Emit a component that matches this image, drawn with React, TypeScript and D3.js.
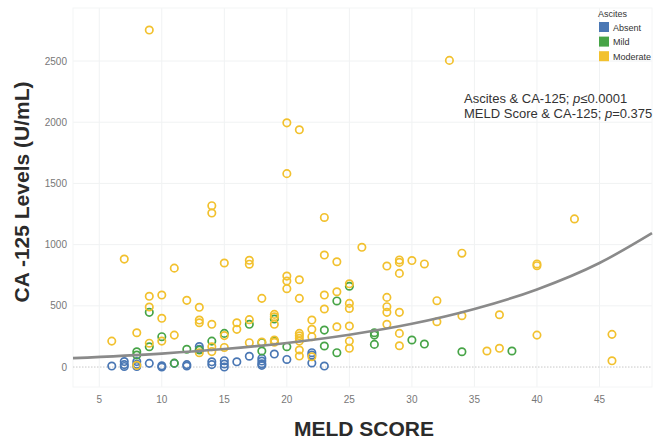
import React, { useEffect, useRef } from 'react';
import * as d3 from 'd3';

// [MELD score, CA-125 (U/mL)] for each ascites group
const absentPoints: [number, number][] = [
  [6, 8], [7, 45], [7, 20], [7, 5], [8, 45], [8, 22], [8, 5], [9, 30],
  [10, 10], [10, 0], [11, 30], [12, 20], [12, 8], [13, 168], [13, 145],
  [14, 43], [14, 20], [15, 52], [15, 25], [15, 0], [16, 43], [17, 88],
  [18, 71], [18, 49], [18, 27], [18, 14], [19, 106], [20, 62],
  [22, 117], [22, 98], [22, 33], [23, 8],
];

const mildPoints: [number, number][] = [
  [8, 125], [8, 98], [9, 447], [9, 166], [10, 248], [11, 32], [12, 145],
  [13, 139], [14, 212], [15, 275], [17, 349], [18, 199], [18, 131],
  [19, 392], [19, 212], [20, 166], [23, 302], [23, 172], [24, 540],
  [24, 117], [25, 660], [27, 280], [27, 261], [27, 185], [30, 221],
  [31, 188], [34, 125], [38, 131],
];

const moderatePoints: [number, number][] = [
  [6, 212], [7, 882], [8, 280], [8, 14], [9, 2753], [9, 578], [9, 490],
  [9, 195], [10, 588], [10, 398], [10, 212], [11, 808], [11, 261],
  [12, 545], [13, 488], [13, 384], [13, 362], [13, 117], [14, 1318],
  [14, 1258], [14, 349], [14, 166], [14, 126], [15, 850], [15, 257],
  [15, 160], [16, 362], [16, 308], [17, 872], [17, 840], [17, 387],
  [17, 199], [18, 561], [18, 204], [19, 430], [19, 411], [19, 349],
  [19, 221], [19, 202], [20, 1995], [20, 1580], [20, 743], [20, 703],
  [20, 640], [21, 1938], [21, 713], [21, 561], [21, 275], [21, 255],
  [21, 235], [21, 212], [21, 139], [21, 90], [22, 384], [22, 308],
  [22, 248], [22, 84], [23, 1222], [23, 915], [23, 588], [23, 474],
  [24, 860], [24, 615], [24, 329], [25, 680], [25, 520], [25, 479],
  [25, 335], [25, 212], [25, 153], [26, 978], [28, 825], [28, 569],
  [28, 493], [28, 447], [28, 349], [29, 875], [29, 855], [29, 765],
  [29, 447], [29, 275], [29, 174], [30, 870], [31, 842], [32, 542],
  [32, 370], [33, 2505], [34, 930], [34, 419], [36, 131], [37, 427],
  [37, 153], [40, 842], [40, 828], [40, 261], [43, 1210], [46, 267],
  [46, 51],
];

// fitted trend line
const trendMeld = [2.9, 10, 15, 20, 25, 30, 35, 40, 45, 49.2];
const trendCa = [73, 110, 147, 197, 264, 353, 474, 634, 850, 1094];

const xTicks = [5, 10, 15, 20, 25, 30, 35, 40, 45];
const yTicks = [0, 500, 1000, 1500, 2000, 2500];

const groups = ['Absent', 'Mild', 'Moderate'];
const groupColors = ['#4a77b4', '#47a447', '#f2c12e'];

const App: React.FC = () => {
  const ref = useRef<SVGSVGElement>(null);

  useEffect(() => {
    if (!ref.current) return;
    const svg = d3.select(ref.current);
    svg.selectAll('*').remove();

    const left = 73, right = 652, top = 8, bottom = 387;
    const x = d3.scaleLinear().domain([2.9, 49.2]).range([left, right]);
    const y = d3.scaleLinear().domain([-163, 2933]).range([bottom, top]);
    const font = '"Liberation Sans", Arial, Helvetica, sans-serif';

    // grid
    const grid = svg.append('g');
    grid.selectAll('.vg')
      .data(xTicks)
      .join('line')
      .attr('x1', d => x(d)).attr('x2', d => x(d))
      .attr('y1', top).attr('y2', bottom)
      .attr('stroke', '#f0f2f3').attr('stroke-width', 1);
    grid.selectAll('.hg')
      .data(yTicks.filter(d => d !== 0))
      .join('line')
      .attr('x1', left).attr('x2', right)
      .attr('y1', d => y(d)).attr('y2', d => y(d))
      .attr('stroke', '#f0f2f3').attr('stroke-width', 1);
    grid.append('rect')
      .attr('x', left).attr('y', top)
      .attr('width', right - left).attr('height', bottom - top)
      .attr('fill', 'none').attr('stroke', '#f4f5f6');

    // zero line
    svg.append('line')
      .attr('x1', left).attr('x2', right)
      .attr('y1', y(0)).attr('y2', y(0))
      .attr('stroke', '#c8c8c8').attr('stroke-width', 1)
      .attr('stroke-dasharray', '1.5,1.5');

    // tick labels
    svg.append('g').selectAll('text')
      .data(xTicks)
      .join('text')
      .attr('x', d => x(d)).attr('y', 403)
      .attr('text-anchor', 'middle')
      .style('font-family', font).style('font-size', '10px')
      .style('fill', '#777')
      .text(d => d);
    svg.append('g').selectAll('text')
      .data(yTicks)
      .join('text')
      .attr('x', 67).attr('y', d => y(d) + 3.5)
      .attr('text-anchor', 'end')
      .style('font-family', font).style('font-size', '10px')
      .style('fill', '#777')
      .text(d => d);

    // points
    const all = [absentPoints, mildPoints, moderatePoints];
    all.forEach((pts, i) => {
      svg.append('g').selectAll('circle')
        .data(pts)
        .join('circle')
        .attr('cx', d => x(d[0]))
        .attr('cy', d => y(d[1]))
        .attr('r', 3.7)
        .attr('fill', 'none')
        .attr('stroke', groupColors[i])
        .attr('stroke-width', 1.7);
    });

    // trend line
    const line = d3.line<number>()
      .x((d, i) => x(trendMeld[i]))
      .y(d => y(d))
      .curve(d3.curveMonotoneX);
    svg.append('path')
      .datum(trendCa)
      .attr('d', line)
      .attr('fill', 'none')
      .attr('stroke', '#8a8a8a')
      .attr('stroke-width', 2.6);

    // annotation
    const ann = svg.append('text')
      .style('font-family', font).style('font-size', '13px')
      .style('fill', '#333');
    const l1 = ann.append('tspan').attr('x', 464).attr('y', 103);
    l1.append('tspan').text('Ascites & CA-125; ');
    l1.append('tspan').style('font-style', 'italic').text('p');
    l1.append('tspan').text('\u22640.0001');
    const l2 = ann.append('tspan').attr('x', 464).attr('y', 118);
    l2.append('tspan').text('MELD Score & CA-125; ');
    l2.append('tspan').style('font-style', 'italic').text('p');
    l2.append('tspan').text('=0.375');

    // legend
    const legend = svg.append('g');
    legend.append('text')
      .attr('x', 598).attr('y', 17)
      .style('font-family', font).style('font-size', '9px')
      .style('fill', '#333')
      .text('Ascites');
    const items = legend.selectAll('.item')
      .data(groups)
      .join('g')
      .attr('transform', (d, i) => `translate(599, ${22 + i * 14.6})`);
    items.append('rect')
      .attr('width', 10).attr('height', 10)
      .attr('fill', (d, i) => groupColors[i]);
    items.append('text')
      .attr('x', 14).attr('y', 8.5)
      .style('font-family', font).style('font-size', '9px')
      .style('fill', '#333')
      .text(d => d);

    // axis titles
    svg.append('text')
      .attr('transform', 'translate(29, 192) rotate(-90)')
      .attr('text-anchor', 'middle')
      .style('font-family', font).style('font-size', '21px')
      .style('font-weight', 'bold').style('fill', '#2b2b2b')
      .text('CA -125 Levels (U/mL)');
    svg.append('text')
      .attr('x', 364).attr('y', 436)
      .attr('text-anchor', 'middle')
      .style('font-family', font).style('font-size', '21px')
      .style('font-weight', 'bold').style('fill', '#2b2b2b')
      .text('MELD SCORE');
  }, []);

  return (
    <svg
      ref={ref}
      width={664}
      height={443}
      style={{ position: 'absolute', left: 0, top: 0, background: '#fff' }}
    />
  );
};

export default App;
